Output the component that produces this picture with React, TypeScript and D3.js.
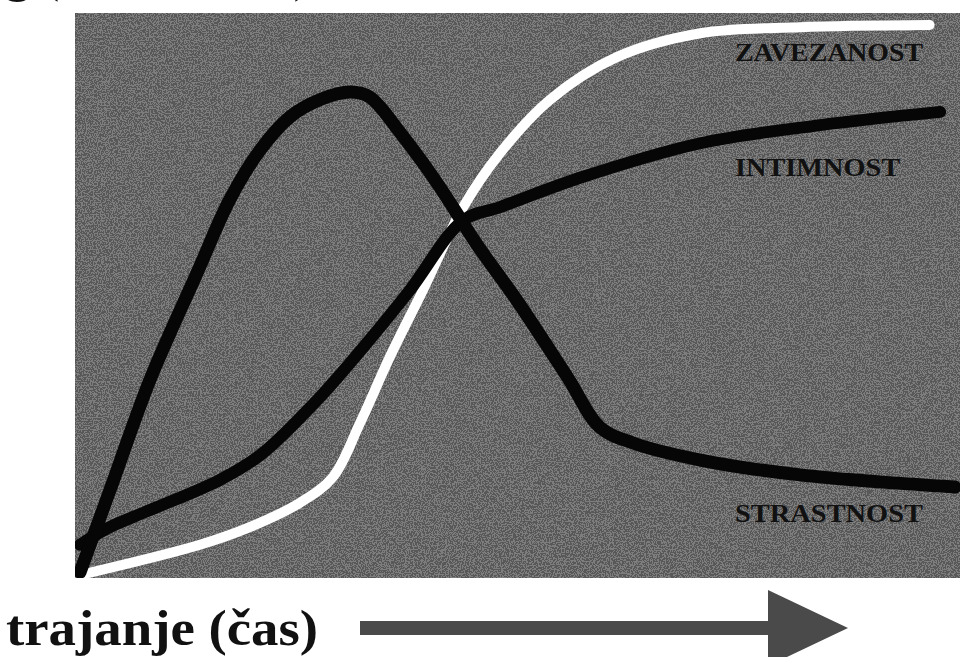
import React, { useEffect } from 'react';
import * as d3 from 'd3';

// time axis (arbitrary units 0-100) and curve heights (0-100)
const zavezanostT = [0, 13.7, 19.4, 25.1, 28.9, 32, 35.4, 39.2, 43.8, 48, 53.7, 61.4, 70.9, 82.3, 97.1];
const zavezanostV = [0, 5.5, 8.7, 13.1, 17.8, 27.6, 39.6, 51.8, 66.9, 76.7, 86.4, 94.2, 98.5, 99.6, 100];

const intimnostT = [0, 3.4, 8, 16, 20.6, 27.1, 32.8, 37.7, 43.8, 48, 57.5, 70.9, 84.6, 98.3];
const intimnostV = [5.5, 8.7, 11.8, 17.3, 21.8, 31.8, 42.2, 51.8, 64.5, 66.9, 72.4, 78.5, 81.8, 84.2];

const strastnostT = [0, 3.4, 8, 13.4, 17.1, 20.6, 24, 27.4, 30.9, 33.1, 36.6, 40.8, 45.4, 49.9, 55.7, 59.4, 63.2, 70.9, 82.3, 100];
const strastnostV = [0.5, 15.3, 35.5, 55, 68.2, 77.3, 83.3, 86.4, 87.8, 86.9, 80.4, 71.3, 60, 50, 36, 26.9, 24, 20.9, 18.2, 16];

const labels = ['ZAVEZANOST', 'INTIMNOST', 'STRASTNOST'];
const labelV = [93.5, 72.5, 9.6];

const xLabel = 'trajanje (čas)';
const yLabel = 'g (moč čustev)';

const W = 960;
const H = 657;
const plot = { left: 75, top: 13, right: 960, bottom: 578 };

const App = () => {
  useEffect(() => {
    document.body.style.margin = '0';
  }, []);

  const x = d3.scaleLinear().domain([0, 100]).range([80, 955]);
  const y = d3.scaleLinear().domain([0, 100]).range([575, 25]);

  const line = d3
    .line<[number, number]>()
    .x((d) => x(d[0]))
    .y((d) => y(d[1]))
    .curve(d3.curveCatmullRom.alpha(0.5));

  const series = [
    { t: zavezanostT, v: zavezanostV, color: '#ffffff', width: 10 },
    { t: intimnostT, v: intimnostV, color: '#060606', width: 12 },
    { t: strastnostT, v: strastnostV, color: '#060606', width: 13 },
  ];

  const serif = '"Liberation Serif", "Times New Roman", serif';

  return (
    <svg width={W} height={H} style={{ display: 'block', background: '#fff' }}>
      <defs>
        <filter id="noise" x="0" y="0" width="100%" height="100%">
          <feTurbulence type="fractalNoise" baseFrequency="0.75" numOctaves="2" seed="4" />
          <feColorMatrix type="saturate" values="0" />
          <feComponentTransfer>
            <feFuncR type="discrete" tableValues="0 0 1 1" />
            <feFuncG type="discrete" tableValues="0 0 1 1" />
            <feFuncB type="discrete" tableValues="0 0 1 1" />
            <feFuncA type="table" tableValues="1 1" />
          </feComponentTransfer>
        </filter>
        <clipPath id="plotClip">
          <rect x={plot.left} y={plot.top} width={plot.right - plot.left} height={plot.bottom - plot.top} />
        </clipPath>
      </defs>

      {/* cut-off axis title at the top */}
      <text x={5} y={-9} fontFamily={serif} fontWeight="bold" fontSize={50} fill="#111">
        {yLabel}
      </text>

      {/* plot background */}
      <rect
        x={plot.left}
        y={plot.top}
        width={plot.right - plot.left}
        height={plot.bottom - plot.top}
        fill="#686868"
      />
      <rect
        x={plot.left}
        y={plot.top}
        width={plot.right - plot.left}
        height={plot.bottom - plot.top}
        filter="url(#noise)"
        opacity={0.14}
      />

      <g clipPath="url(#plotClip)">
        {series.map((s, i) => (
          <path
            key={i}
            d={line(s.t.map((t, j) => [t, s.v[j]] as [number, number])) || ''}
            fill="none"
            stroke={s.color}
            strokeWidth={s.width}
            strokeLinecap="round"
            strokeLinejoin="round"
          />
        ))}
      </g>

      {labels.map((l, i) => (
        <text
          key={l}
          x={735}
          y={y(labelV[i])}
          fontFamily={serif}
          fontWeight="bold"
          fontSize={26}
          fill="#111"
          textLength={i === 1 ? 165 : 188}
          lengthAdjust="spacingAndGlyphs"
        >
          {l}
        </text>
      ))}

      {/* time arrow */}
      <text
        x={6}
        y={645}
        fontFamily={serif}
        fontWeight="bold"
        fontSize={50}
        fill="#111"
        textLength={312}
        lengthAdjust="spacingAndGlyphs"
      >
        {xLabel}
      </text>
      <rect x={360} y={621} width={412} height={14} fill="#4a4a4a" />
      <path d="M768,590 L848,628 L768,666 Z" fill="#4a4a4a" />
    </svg>
  );
};

export default App;
